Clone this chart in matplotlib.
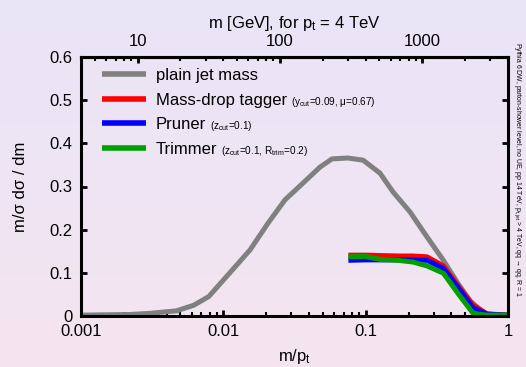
import numpy as np
import matplotlib
matplotlib.use("Agg")
import matplotlib.pyplot as plt
from matplotlib.ticker import FixedLocator, LogLocator, NullFormatter, FixedFormatter

plt.rcParams["font.family"] = ["Liberation Sans", "DejaVu Sans"]
plt.rcParams["mathtext.fontset"] = "custom"
plt.rcParams["mathtext.rm"] = "Liberation Sans"
plt.rcParams["mathtext.it"] = "Liberation Sans:italic"
plt.rcParams["mathtext.bf"] = "Liberation Sans:bold"

PT_GEV = 4000.0

# plain (ungroomed) jet mass distribution
plain_x = [0.001, 0.0022, 0.003, 0.0047, 0.0062, 0.0079, 0.0154, 0.0206, 0.0271,
           0.0363, 0.0478, 0.058, 0.0752, 0.0959, 0.126, 0.156, 0.205, 0.270,
           0.350, 0.446, 0.542, 0.690, 1.0]
plain_y = [0.002, 0.0035, 0.006, 0.012, 0.025, 0.045, 0.153, 0.215, 0.269,
           0.308, 0.345, 0.364, 0.366, 0.361, 0.331, 0.287, 0.241, 0.183,
           0.130, 0.075, 0.035, 0.005, 0.001]

# groomed/tagged jet mass distributions
tag_x = [0.0756, 0.099, 0.128, 0.169, 0.215, 0.270, 0.352, 0.446, 0.569, 0.713, 1.0]
mdt_y = [0.141, 0.141, 0.140, 0.139, 0.139, 0.137, 0.116, 0.070, 0.025, 0.005, 0.002]
pruner_y = [0.129, 0.130, 0.130, 0.130, 0.130, 0.129, 0.110, 0.066, 0.019, 0.004, 0.002]
trimmer_y = [0.137, 0.138, 0.131, 0.129, 0.125, 0.116, 0.099, 0.052, 0.006, 0.002, 0.002]

labels = ["plain jet mass", "Mass-drop tagger", "Pruner", "Trimmer"]
params = ["", r"(y$_\mathrm{cut}$=0.09, μ=0.67)", r"(z$_\mathrm{cut}$=0.1)",
          r"(z$_\mathrm{cut}$=0.1, R$_\mathrm{trim}$=0.2)"]
colors = ["#808080", "#ff0000", "#0000ff", "#00a000"]

x_ticks = [0.001, 0.01, 0.1, 1]
x_ticklabels = ["0.001", "0.01", "0.1", "1"]
y_ticks = [0, 0.1, 0.2, 0.3, 0.4, 0.5, 0.6]
y_ticklabels = ["0", "0.1", "0.2", "0.3", "0.4", "0.5", "0.6"]
m_ticks = [10, 100, 1000]
m_ticklabels = ["10", "100", "1000"]

FS = 12

W, H = 526, 367
fig = plt.figure(figsize=(W / 100, H / 100), dpi=100)

# soft vertical background gradient
bg = fig.add_axes([0, 0, 1, 1], zorder=-10)
top_c = np.array([233, 229, 247]) / 255
bot_c = np.array([245, 228, 240]) / 255
t = np.linspace(0, 1, 256)[:, None]
grad = top_c[None, :] * (1 - t) + bot_c[None, :] * t
bg.imshow(grad[:, None, :], aspect="auto", extent=[0, 1, 0, 1])
bg.set_axis_off()

L, R, T, B = 81, 508, 57, 316
ax = fig.add_axes([L / W, 1 - B / H, (R - L) / W, (B - T) / H])
ax.set_facecolor("none")

ax.set_xscale("log")
ax.set_xlim(0.001, 1)
ax.set_ylim(0, 0.6)

lw = 3.6
style = dict(lw=lw, solid_capstyle="butt", solid_joinstyle="round")
ax.plot(plain_x, plain_y, color=colors[0], label=labels[0], **style)
ax.plot(tag_x, mdt_y, color=colors[1], label=labels[1], **style)
ax.plot(tag_x, pruner_y, color=colors[2], label=labels[2], **style)
ax.plot(tag_x, trimmer_y, color=colors[3], label=labels[3], **style)

for s in ax.spines.values():
    s.set_linewidth(2.2)
    s.set_zorder(5)

ax.xaxis.set_major_locator(FixedLocator(x_ticks))
ax.xaxis.set_major_formatter(FixedFormatter(x_ticklabels))
ax.xaxis.set_minor_locator(LogLocator(base=10, subs=np.arange(2, 10)))
ax.xaxis.set_minor_formatter(NullFormatter())
ax.yaxis.set_major_locator(FixedLocator(y_ticks))
ax.yaxis.set_major_formatter(FixedFormatter(y_ticklabels))

ax.tick_params(which="both", direction="in", top=False, right=True,
               labelsize=FS, colors="black")
ax.tick_params(which="major", length=4, width=2)
ax.tick_params(which="minor", length=3, width=1.5)
ax.tick_params(axis="y", pad=6)
ax.tick_params(axis="x", pad=5.5)

ax.set_xlabel(r"m/p$_\mathrm{t}$", fontsize=FS)
ax.xaxis.set_label_coords(0.5, -0.12)
ax.set_ylabel("m/σ dσ / dm", fontsize=FS)
ax.yaxis.set_label_coords(-0.125, 0.5)

sec = ax.secondary_xaxis("top", functions=(lambda x: x * PT_GEV,
                                           lambda m: m / PT_GEV))
sec.xaxis.set_major_locator(FixedLocator(m_ticks))
sec.xaxis.set_major_formatter(FixedFormatter(m_ticklabels))
sec.xaxis.set_minor_locator(LogLocator(base=10, subs=np.arange(2, 10)))
sec.xaxis.set_minor_formatter(NullFormatter())
sec.tick_params(which="both", direction="in", labelsize=FS, pad=6)
sec.tick_params(which="major", length=4, width=2)
sec.tick_params(which="minor", length=3, width=1.5)
sec.spines["top"].set_linewidth(2.2)
sec.set_xlabel(r"m [GeV], for p$_\mathrm{t}$ = 4 TeV", fontsize=FS, labelpad=4)

leg = ax.legend(loc="upper left", bbox_to_anchor=(0.0485, 0.958), frameon=False,
                fontsize=FS, handlelength=2.64, handletextpad=0.6,
                labelspacing=0.58, borderaxespad=0, borderpad=0)
for ln in leg.get_lines():
    ln.set_linewidth(4.0)

# small parameter annotations after the legend entries
fig.canvas.draw()
renderer = fig.canvas.get_renderer()
for txt, extra in zip(leg.get_texts(), params):
    if not extra:
        continue
    bb = txt.get_window_extent(renderer)
    _, _, d = renderer.get_text_width_height_descent("lp", txt.get_fontproperties(),
                                                     ismath=False)
    fig.text((bb.x1 + 4) / W, (bb.y0 + d) / H, extra, fontsize=7.2,
             ha="left", va="baseline")

fig.text(517 / W, 1 - 42 / H,
         r"Pythia 6 DW, parton-shower level, no UE, pp 14 TeV, p$_\mathrm{t,jet}$ > 4 TeV, qq → qq, R = 1",
         fontsize=4.95, rotation=-90, ha="center", va="top")

fig.savefig("out.png", dpi=100)
